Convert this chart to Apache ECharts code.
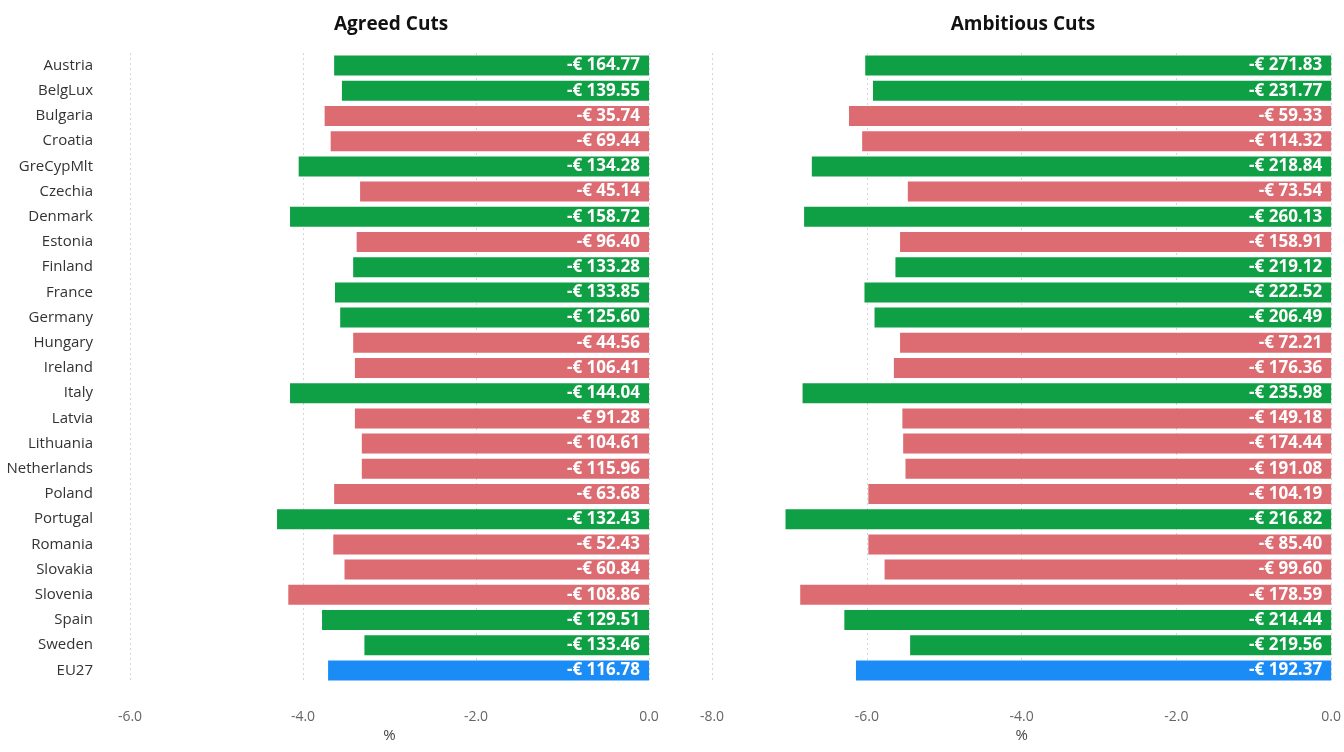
<!DOCTYPE html>
<html>
<head>
<meta charset="utf-8">
<script src="https://cdn.jsdelivr.net/npm/echarts@6/dist/echarts.min.js"></script>
<style>html,body{margin:0;padding:0;background:#fff}#c{width:1344px;height:752px}</style>
</head>
<body>
<div id="c"></div>
<script>
const countries = ["Austria","BelgLux","Bulgaria","Croatia","GreCypMlt","Czechia","Denmark","Estonia","Finland","France","Germany","Hungary","Ireland","Italy","Latvia","Lithuania","Netherlands","Poland","Portugal","Romania","Slovakia","Slovenia","Spain","Sweden","EU27"];
const groups = ["G","G","R","R","G","R","G","R","G","G","G","R","R","G","R","R","R","R","G","R","R","R","G","G","EU"];
const agreedPct = [-3.64,-3.55,-3.75,-3.68,-4.05,-3.34,-4.15,-3.38,-3.42,-3.63,-3.57,-3.42,-3.40,-4.15,-3.40,-3.32,-3.32,-3.64,-4.30,-3.65,-3.52,-4.17,-3.78,-3.29,-3.71];
const agreedEur = [164.77,139.55,35.74,69.44,134.28,45.14,158.72,96.40,133.28,133.85,125.60,44.56,106.41,144.04,91.28,104.61,115.96,63.68,132.43,52.43,60.84,108.86,129.51,133.46,116.78];
const ambitiousPct = [-6.02,-5.92,-6.23,-6.06,-6.71,-5.47,-6.81,-5.57,-5.63,-6.03,-5.90,-5.57,-5.65,-6.83,-5.54,-5.53,-5.50,-5.98,-7.05,-5.98,-5.77,-6.86,-6.29,-5.44,-6.14];
const ambitiousEur = [271.83,231.77,59.33,114.32,218.84,73.54,260.13,158.91,219.12,222.52,206.49,72.21,176.36,235.98,149.18,174.44,191.08,104.19,216.82,85.40,99.60,178.59,214.44,219.56,192.37];
const titles = ["Agreed Cuts","Ambitious Cuts"];
const axisName = "%";

const colorMap = {G:"#0f9f45", R:"#dc6b72", EU:"#1b8cf5"};
const font = "'Open Sans',sans-serif";

function mkData(pct, eur){
  return pct.map((v,i)=>({value:v, eur:eur[i], itemStyle:{color:colorMap[groups[i]]}}));
}
function mkX(idx, min){
  return {gridIndex:idx, type:'value', min:min, max:0, interval:2,
    name:axisName, nameLocation:'middle', nameGap:45, nameMoveOverlap:false,
    nameTextStyle:{color:'#444', fontSize:15, fontFamily:font},
    axisLabel:{formatter:v=>v.toFixed(1), color:'#666', fontSize:14, margin:27, fontFamily:font},
    axisLine:{show:false}, axisTick:{show:false},
    splitLine:{show:true, lineStyle:{type:[2,3], color:'#d6d6d6', width:1}}};
}
function mkY(idx, show){
  return {gridIndex:idx, type:'category', data:countries, inverse:true,
    axisLine:{show:false}, axisTick:{show:false},
    axisLabel:{show:show, color:'#333', fontSize:15, margin:37, fontFamily:font},
    splitLine:{show:false}};
}
const label = {show:true, position:'insideRight', distance:9, color:'#fff', fontWeight:'bold', fontSize:17, fontFamily:font,
  formatter:p=>'-€ '+p.data.eur.toFixed(2)};

const chart = echarts.init(document.getElementById('c'));
chart.setOption({
  animation:false,
  title:[
    {text:titles[0], left:386, top:10, textAlign:'center', textStyle:{fontSize:19, fontWeight:'bold', color:'#111', fontFamily:font}},
    {text:titles[1], left:1018, top:10, textAlign:'center', textStyle:{fontSize:19, fontWeight:'bold', color:'#111', fontFamily:font}}
  ],
  grid:[
    {left:130, right:695, top:53, bottom:69},
    {left:712, right:12, top:53, bottom:69}
  ],
  xAxis:[mkX(0,-6), mkX(1,-8)],
  yAxis:[mkY(0,true), mkY(1,false)],
  series:[
    {type:'bar', xAxisIndex:0, yAxisIndex:0, data:mkData(agreedPct, agreedEur), barWidth:20, label:label},
    {type:'bar', xAxisIndex:1, yAxisIndex:1, data:mkData(ambitiousPct, ambitiousEur), barWidth:20, label:label}
  ]
});
</script>
</body>
</html>
